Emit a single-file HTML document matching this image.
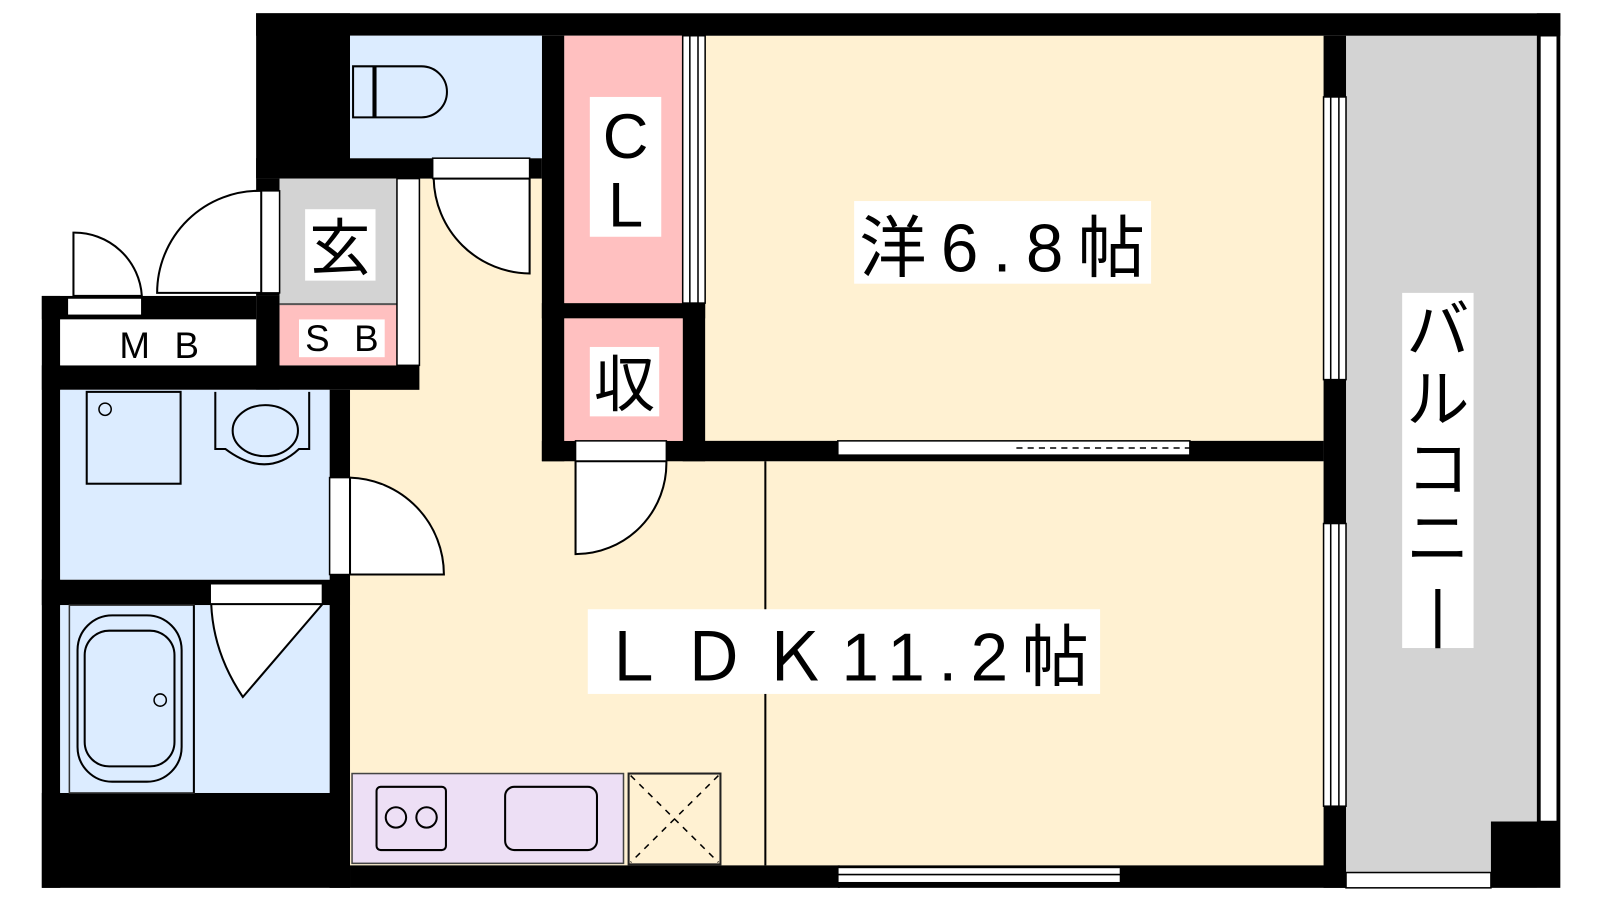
<!DOCTYPE html>
<html><head><meta charset="utf-8"><style>
body{margin:0;background:#fff;width:1600px;height:900px;overflow:hidden}
svg text{font-family:"Liberation Sans","Noto Sans CJK JP",sans-serif;fill:#000}
</style></head><body>
<svg width="1600" height="900" viewBox="0 0 1600 900" xmlns="http://www.w3.org/2000/svg">
<g transform="translate(1,0) scale(1.0205)">
<!-- floors -->
<rect x="342" y="175" width="410" height="673" fill="#FFF1D2"/>
<rect x="690" y="35" width="606" height="397" fill="#FFF1D2"/>
<rect x="690" y="452" width="606" height="396" fill="#FFF1D2"/>
<rect x="1318" y="35" width="187" height="835" fill="#D3D3D3"/>
<!-- black walls -->
<rect x="250" y="13" width="1278" height="22" fill="#000"/>
<rect x="250" y="13" width="92" height="162" fill="#000"/>
<rect x="250" y="155" width="280" height="20" fill="#000"/>
<rect x="250" y="175" width="23" height="115" fill="#000"/>
<rect x="530" y="35" width="22" height="417" fill="#000"/>
<rect x="530" y="297" width="160" height="15" fill="#000"/>
<rect x="668" y="297" width="22" height="155" fill="#000"/>
<rect x="530" y="432" width="766" height="20" fill="#000"/>
<rect x="1296" y="35" width="22" height="835" fill="#000"/>
<rect x="40" y="290" width="210" height="23" fill="#000"/>
<rect x="40" y="290" width="18" height="580" fill="#000"/>
<rect x="250" y="290" width="23" height="92" fill="#000"/>
<rect x="40" y="358" width="370" height="24" fill="#000"/>
<rect x="322" y="382" width="20" height="488" fill="#000"/>
<rect x="40" y="568" width="302" height="25" fill="#000"/>
<rect x="40" y="777" width="302" height="93" fill="#000"/>
<rect x="342" y="848" width="480" height="22" fill="#000"/>
<rect x="820" y="848" width="498" height="22" fill="#000"/>
<rect x="1460" y="805" width="68" height="65" fill="#000"/>
<rect x="1505" y="13" width="23" height="792" fill="#000"/>
<rect x="1508" y="35" width="17" height="770" fill="#fff" stroke="#000" stroke-width="1.5"/>
<rect x="1318" y="855" width="142" height="15" fill="#fff" stroke="#000" stroke-width="1.5"/>
<!-- rooms -->
<rect x="342" y="35" width="188" height="120" fill="#DCECFF"/>
<rect x="552" y="35" width="116" height="262" fill="#FFC0C0"/>
<rect x="552" y="312" width="116" height="120" fill="#FFC0C0"/>
<rect x="273" y="175" width="115" height="123" fill="#D3D3D3"/>
<rect x="273" y="298" width="115" height="60" fill="#FFC0C0"/>
<line x1="273" y1="298" x2="388" y2="298" stroke="#555" stroke-width="2"/>
<rect x="58" y="313" width="192" height="45" fill="#fff"/>
<rect x="58" y="382" width="264" height="186" fill="#DCECFF"/>
<rect x="58" y="593" width="264" height="184" fill="#DCECFF"/>
<rect x="67" y="593" width="122" height="184" fill="#DCECFF" stroke="#333" stroke-width="1.5"/>
<!-- kitchen -->
<rect x="344" y="758" width="266" height="88" fill="#EDDFF5" stroke="#444" stroke-width="1.5"/>
<rect x="368" y="771" width="68" height="62" rx="4" fill="none" stroke="#000" stroke-width="2"/>
<circle cx="387" cy="801" r="10" fill="none" stroke="#000" stroke-width="2"/>
<circle cx="417" cy="801" r="10" fill="none" stroke="#000" stroke-width="2"/>
<rect x="494" y="771" width="90" height="62" rx="9" fill="none" stroke="#000" stroke-width="2"/>
<rect x="615" y="758" width="90" height="89" fill="#FFF1D2" stroke="#222" stroke-width="2"/>
<path d="M617 760L703 845M703 760L617 845" stroke="#000" stroke-width="1.5" stroke-dasharray="6 6"/>
<line x1="749" y1="452" x2="749" y2="848" stroke="#000" stroke-width="2"/>
<!-- windows / doors -->
<rect x="668" y="35" width="22" height="262" fill="#fff" stroke="#000" stroke-width="1.5"/>
<line x1="675" y1="35" x2="675" y2="297" stroke="#000" stroke-width="1.5"/><line x1="683" y1="35" x2="683" y2="297" stroke="#000" stroke-width="1.5"/>
<rect x="1296" y="95" width="22" height="277" fill="#fff" stroke="#000" stroke-width="1.5"/>
<line x1="1303" y1="95" x2="1303" y2="372" stroke="#000" stroke-width="1.5"/><line x1="1311" y1="95" x2="1311" y2="372" stroke="#000" stroke-width="1.5"/>
<rect x="1296" y="513" width="22" height="277" fill="#fff" stroke="#000" stroke-width="1.5"/>
<line x1="1303" y1="513" x2="1303" y2="790" stroke="#000" stroke-width="1.5"/><line x1="1311" y1="513" x2="1311" y2="790" stroke="#000" stroke-width="1.5"/>
<rect x="820" y="432" width="345" height="14" fill="#fff" stroke="#000" stroke-width="1.5"/>
<line x1="995" y1="439" x2="1165" y2="439" stroke="#000" stroke-width="1.5" stroke-dasharray="6 5"/>
<rect x="820" y="850" width="277" height="15" fill="#fff" stroke="#000" stroke-width="1.5"/>
<line x1="820" y1="857" x2="1097" y2="857" stroke="#000" stroke-width="1.5"/>
<rect x="388" y="175" width="22" height="183" fill="#fff" stroke="#000" stroke-width="1.5"/>
<rect x="423" y="155" width="95" height="20" fill="#fff" stroke="#000" stroke-width="1.5"/>
<path d="M424 175A95 95 0 0 0 518 268L518 175Z" fill="#fff" stroke="#000" stroke-width="2"/>
<rect x="563" y="432" width="89" height="20" fill="#fff" stroke="#000" stroke-width="1.5"/>
<path d="M563 452L563 543A89 89 0 0 0 652 452Z" fill="#fff" stroke="#000" stroke-width="2"/>
<rect x="322" y="468" width="20" height="95" fill="#fff" stroke="#000" stroke-width="1.5"/>
<path d="M342 468A95 95 0 0 1 434 563L342 563Z" fill="#fff" stroke="#000" stroke-width="2"/>
<rect x="205" y="572" width="110" height="20" fill="#fff" stroke="#000" stroke-width="1.5"/>
<path d="M206 592Q208 640 237 683L315 592Z" fill="#fff" stroke="#000" stroke-width="2"/>
<rect x="255" y="187" width="18" height="100" fill="#fff" stroke="#000" stroke-width="1.5"/>
<path d="M255 187A100 100 0 0 0 153 287L255 287Z" fill="#fff" stroke="#000" stroke-width="2"/>
<rect x="65" y="292" width="73" height="17" fill="#fff" stroke="#000" stroke-width="1.5"/>
<path d="M71 290L71 228A66 66 0 0 1 138 290Z" fill="#fff" stroke="#000" stroke-width="2"/>
<!-- fixtures -->
<path d="M345 65h20v50h-20zM367 65h45a25 25 0 0 1 0 50h-45z" fill="none" stroke="#000" stroke-width="2"/>
<rect x="84" y="384" width="92" height="90" fill="none" stroke="#000" stroke-width="2"/>
<circle cx="102" cy="401" r="6" fill="none" stroke="#000" stroke-width="1.5"/>
<path d="M210 384v56h10q40 30 72 0h10v-56" fill="none" stroke="#000" stroke-width="2"/>
<ellipse cx="259" cy="422" rx="32" ry="25" fill="none" stroke="#000" stroke-width="2"/>
<rect x="75" y="603" width="102" height="163" rx="34" fill="none" stroke="#000" stroke-width="2"/>
<rect x="82" y="618" width="88" height="133" rx="24" fill="none" stroke="#000" stroke-width="2"/>
<circle cx="156" cy="686" r="6" fill="none" stroke="#000" stroke-width="1.5"/>
<line x1="189" y1="593" x2="189" y2="777" stroke="#000" stroke-width="2"/>
<!-- labels -->
<rect x="836" y="197" width="291" height="81" fill="#fff"/>
<text x="981" y="266" font-size="66" text-anchor="middle" textLength="280">洋6.8帖</text>
<rect x="575" y="597" width="502" height="83" fill="#fff"/>
<text x="826" y="667" font-size="66" text-anchor="middle" textLength="480">ＬＤＫ11.2帖</text>
<rect x="1373" y="287" width="70" height="348" fill="#fff"/>
<text x="1408" y="345" font-size="62" text-anchor="middle">バ</text>
<text x="1408" y="413" font-size="62" text-anchor="middle">ル</text>
<text x="1408" y="481" font-size="62" text-anchor="middle">コ</text>
<text x="1408" y="549" font-size="62" text-anchor="middle">ニ</text>
<text x="1408" y="622" font-size="62" text-anchor="middle">|</text>
<rect x="577" y="95" width="70" height="137" fill="#fff"/>
<text x="612" y="155" font-size="62" text-anchor="middle">C</text>
<text x="612" y="222" font-size="62" text-anchor="middle">L</text>
<rect x="577" y="340" width="68" height="68" fill="#fff"/>
<text x="611" y="398" font-size="60" text-anchor="middle">収</text>
<rect x="298" y="205" width="69" height="70" fill="#fff"/>
<text x="332" y="264" font-size="60" text-anchor="middle">玄</text>
<rect x="292" y="313" width="84" height="37" fill="#fff"/>
<text x="334" y="344" font-size="36" text-anchor="middle" textLength="72">SB</text>
<text x="155" y="351" font-size="36" text-anchor="middle" textLength="78">MB</text>
</g>
</svg>
</body></html>
